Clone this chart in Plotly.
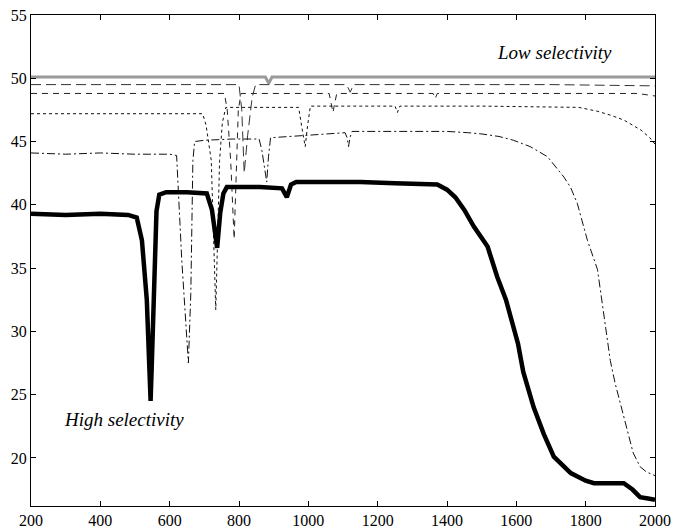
import plotly.graph_objects as go

# ---- data ----
gray_x = [200, 500, 800, 876, 886, 895, 1200, 1600, 2000]
gray_y = [50.1, 50.1, 50.1, 50.1, 49.6, 50.1, 50.1, 50.1, 50.1]

c495_x = [200, 500, 700, 800, 808, 815, 825, 838, 848, 1000, 1110, 1121, 1130, 1400, 1700, 2000]
c495_y = [49.5, 49.5, 49.5, 49.5, 47.5, 42.5, 45.5, 48.5, 49.5, 49.5, 49.5, 48.9, 49.5, 49.5, 49.5, 49.4]

c488_x = [200, 500, 758, 766, 776, 786, 792, 798, 806, 950, 1060, 1066, 1071, 1076, 1082, 1250,
          1360, 1366, 1372, 1600, 1950, 2000]
c488_y = [48.8, 48.8, 48.8, 47.5, 43.5, 37.3, 43.5, 47.5, 48.8, 48.8, 48.8, 48.0, 47.3, 48.0, 48.8, 48.8,
          48.8, 48.4, 48.8, 48.8, 48.8, 48.6]

c472_x = [200, 400, 600, 695, 705, 720, 733, 744, 752, 762, 870, 972, 982, 991, 998, 1006, 1150,
          1250, 1257, 1264, 1500, 1780, 1833, 1870, 1910, 1960, 1985, 2000]
c472_y = [47.2, 47.2, 47.2, 47.2, 46.3, 43.5, 31.7, 43.5, 46.5, 47.7, 47.7, 47.7, 46.0, 44.6, 46.3, 47.8, 47.8,
          47.8, 47.3, 47.8, 47.8, 47.7, 47.4, 47.1, 46.7, 45.9, 45.3, 44.8]

c441_x = [200, 300, 400, 500, 600, 620, 635, 650, 654, 661, 667, 672, 700, 780, 858, 866, 873, 880,
          885, 891, 1000, 1106, 1112, 1116, 1120, 1126, 1200, 1300, 1400, 1460, 1500, 1550, 1592,
          1640, 1690, 1737, 1756, 1776, 1805, 1834, 1857, 1871, 1885, 1914, 1937, 1957, 1975, 2000]
c441_y = [44.1, 44.0, 44.1, 44.0, 44.0, 43.9, 35.6, 29.3, 27.5, 33.0, 43.5, 45.0, 45.1, 45.2, 45.2, 44.3, 43.0, 41.8,
          43.8, 45.3, 45.5, 45.7, 45.3, 44.6, 45.3, 45.8, 45.8, 45.8, 45.8, 45.7, 45.6, 45.4, 45.1,
          44.6, 43.8, 42.2, 41.4, 40.1, 37.2, 34.9, 30.4, 27.7, 25.9, 22.8, 20.4, 19.3, 18.9, 18.6]

hs_x = [200, 300, 400, 480, 505, 520, 534, 540, 545, 548, 555, 562, 570, 590, 650, 707, 722, 732, 737,
        746, 755, 765, 800, 860, 924, 938, 950, 965, 1050, 1150, 1250, 1330, 1372, 1400, 1424, 1450,
        1477, 1517, 1545, 1570, 1592, 1605, 1620, 1650, 1679, 1708, 1757, 1800, 1824, 1870, 1910,
        1935, 1957, 1980, 2000]
hs_y = [39.3, 39.2, 39.3, 39.2, 39.0, 37.2, 32.5, 28.0, 24.5, 27.0, 35.0, 39.5, 40.8, 41.0, 41.0, 40.9, 39.6, 37.5, 36.6,
        39.4, 40.9, 41.4, 41.4, 41.4, 41.3, 40.6, 41.6, 41.8, 41.8, 41.8, 41.7, 41.6, 41.6, 41.2, 40.6, 39.6,
        38.3, 36.7, 34.3, 32.5, 30.4, 29.0, 26.8, 24.0, 21.9, 20.1, 18.8, 18.2, 18.0, 18.0, 18.0,
        17.5, 16.9, 16.8, 16.7]

x_ticks = [200, 400, 600, 800, 1000, 1200, 1400, 1600, 1800, 2000]
y_ticks = [20, 25, 30, 35, 40, 45, 50, 55]

FONT = "Liberation Serif, Times New Roman, serif"

fig = go.Figure()
fig.add_trace(go.Scatter(x=gray_x, y=gray_y, mode="lines",
                         line=dict(color="#9a9a9a", width=3)))
fig.add_trace(go.Scatter(x=c495_x, y=c495_y, mode="lines",
                         line=dict(color="#333333", width=1, dash="10px,5px")))
fig.add_trace(go.Scatter(x=c488_x, y=c488_y, mode="lines",
                         line=dict(color="#222222", width=1, dash="6px,5px")))
fig.add_trace(go.Scatter(x=c472_x, y=c472_y, mode="lines",
                         line=dict(color="#111111", width=1, dash="3px,3px")))
fig.add_trace(go.Scatter(x=c441_x, y=c441_y, mode="lines",
                         line=dict(color="#111111", width=1, dash="8px,3px,2px,3px")))
fig.add_trace(go.Scatter(x=hs_x, y=hs_y, mode="lines",
                         line=dict(color="black", width=4.5)))

fig.add_annotation(x=1711, y=52.0, text="<i>Low selectivity</i>", showarrow=False,
                   xanchor="center", yanchor="middle",
                   font=dict(family=FONT, size=19, color="black"))
fig.add_annotation(x=467, y=23.0, text="<i>High selectivity</i>", showarrow=False,
                   xanchor="center", yanchor="middle",
                   font=dict(family=FONT, size=19, color="black"))

axis_common = dict(showgrid=False, zeroline=False, showline=True, linecolor="black",
                   linewidth=1, mirror="ticks", ticks="inside", ticklen=5,
                   tickcolor="black", automargin=False, ticklabeloverflow="allow",
                   tickfont=dict(family=FONT, size=16, color="black"))

fig.update_xaxes(range=[200, 2000], tickvals=x_ticks, ticktext=[str(v) for v in x_ticks],
                 **axis_common)
fig.update_yaxes(range=[16.2, 55], tickvals=y_ticks, ticktext=[str(v) for v in y_ticks],
                 **axis_common)

fig.update_layout(width=673, height=528, showlegend=False,
                  plot_bgcolor="white", paper_bgcolor="white",
                  margin=dict(l=31, r=18, t=15, b=22))

# remove the browser's default 8px body margin so the figure fills the window
fig.write_html("out.html",
               config={"displayModeBar": False},
               post_script="document.body.style.margin='0';document.body.style.overflow='hidden';")
